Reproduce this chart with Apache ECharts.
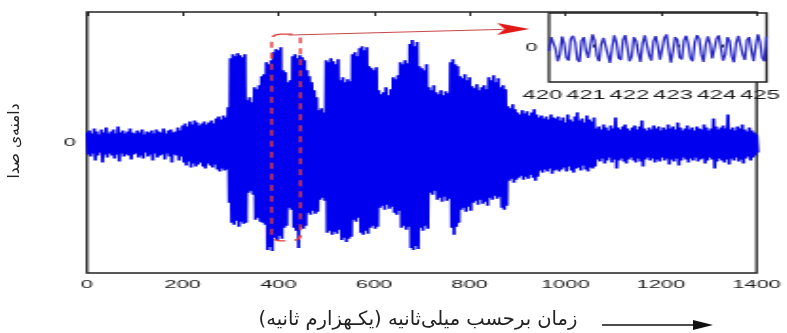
<!DOCTYPE html>
<html>
<head>
<meta charset="utf-8">
<script src="https://cdn.jsdelivr.net/npm/echarts@6/dist/echarts.min.js"></script>
<style>
  html, body { margin: 0; padding: 0; background: #fff; }
  #wrap { position: relative; width: 787px; height: 333px; overflow: hidden; background: #fff; }
  #plot { position: absolute; left: 0; top: 0; height: 333px; transform-origin: 0 0; }
  #over { position: absolute; left: 0; top: 0; width: 787px; height: 333px; pointer-events: none; direction: rtl; }
</style>
</head>
<body>
<div id="wrap">
  <div id="plot"></div>
  <div id="over"></div>
</div>
<script>
// ---------- data ----------
const timeStep = 5;              // ms between samples of the envelope
const mainXTicks = [0, 200, 400, 600, 800, 1000, 1200, 1400];
const mainYRange = [-130, 130];
// positive peaks (amplitude units) every 5 ms, t = 0 .. 1400
const waveUpper = [
  10,12,9,14,11,8,13,10,15,9, 11,13,9,16,10,12,9,11,14,10,
  9,12,10,13,8,11,10,12,9,13, 11,10,14,9,12,13,10,11,15,12,
  17,19,16,21,18,22,20,17,19,21,18,20,22,19,
  24,26,23,27,25,
  35,
  84,88,86,89,87,85,88,
  42,45,40,
  55,53,57,
  66,68,
  80,78,82,
  90,93,92,95,
  72,70,
  60,62,
  86,88,84,87,85,82,
  72,66,60,52,45,
  32,34,30,
  82,80,84,81,78,83,
  62,65,60,63,61,
  88,90,86,
  94,96,92,95,
  76,74,72,75,
  52,48,50,55,47,53,
  65,63,67,
  80,78,82,79,
  98,102,96,100,
  76,74,72,78,
  55,52,57,
  50,48,52,47,51,49,
  80,83,78,76,
  66,64,68,62,65,
  56,54,58,52,55,57,53,
  65,62,67,60,64,
  55,57,53,
  36,34,38,33,
  30,28,32,29,31,27,30,33,28,
  25,27,24,26,23,28,25,24,26,
  22,25,20,28,23,21,26,30,22,24,20,27,23,21,25,
  14,16,13,18,15,12,17,14,25,15, 13,16,18,14,12,15,17,13,16,22,
  14,12,15,13,17,14,16,12,15,13, 18,14,16,13,20,15,12,14,17,13,
  15,12,16,14,13,18,15,12,14,24, 16,13,15,17,14,28,13,15,12,16,
  14,18,13,11,15,12,10,
  8
];
// negative peaks (magnitude) half a step later
const waveLower = [
  12,14,11,18,13,10,20,12,15,11, 13,16,12,19,11,14,12,13,17,12,
  11,15,13,16,10,14,12,18,11,15, 13,12,17,11,14,20,12,13,18,14,
  20,23,19,25,21,24,22,20,24,26,21,23,25,22,
  27,29,26,28,27,
  60,
  80,82,78,84,79,81,80,
  50,48,52,
  77,75,79,
  80,82,
  107,104,108,
  95,97,93,96,
  85,83,
  65,67,
  85,88,105,84,86,83,
  70,72,68,71,69,
  57,55,58,
  90,88,92,89,91,87,
  97,95,99,96,94,
  77,79,75,
  90,92,88,91,
  85,83,86,84,
  65,63,67,62,66,64,
  70,72,68,
  85,83,87,84,
  105,107,103,106,
  85,88,83,86,
  50,52,48,
  57,55,59,54,58,56,
  85,92,84,80,
  67,65,69,64,68,
  60,58,62,57,61,59,63,
  55,57,53,56,54,
  65,67,63,
  38,36,40,37,
  35,33,37,34,36,32,35,38,34,
  28,30,27,29,26,31,28,27,29,
  27,25,29,24,28,30,26,25,28,23,27,29,25,26,24,
  17,19,16,21,18,15,20,17,26,18, 16,19,21,17,15,18,20,16,19,24,
  17,15,18,16,20,17,19,15,18,16, 22,17,19,16,23,18,15,17,20,16,
  18,15,19,17,16,21,18,15,17,26, 19,16,18,20,17,22,16,18,15,19,
  17,21,16,14,18,15,13,
  10
];
// zoomed window 420..425 ms
const insetStart = 420;
const insetStep = 0.05;
const insetXTicks = [420, 421, 422, 423, 424, 425];
const insetValues = [
  -0.1,0.3,0.35,-0.05,-0.4,-0.2,0.32,0.1,-0.3,-0.38,
  0.25,0.34,0.15,-0.35,-0.42,0.2,0.3,-0.1,-0.3,0.05,
  0.38,0.2,-0.25,-0.4,0.1,0.28,0.32,-0.2,-0.45,0.0,
  0.35,0.15,-0.3,-0.36,0.22,0.36,0.0,-0.4,-0.25,0.3,
  0.2,-0.15,-0.42,0.12,0.35,0.3,-0.22,-0.38,0.18,0.33,
  0.05,-0.35,-0.3,0.28,0.38,-0.05,-0.44,-0.1,0.3,0.22,
  -0.28,-0.35,0.2,0.34,0.1,-0.3,-0.4,0.15,0.36,0.25,
  -0.2,-0.42,0.08,0.32,0.12,-0.32,-0.3,0.26,0.35,-0.02,
  -0.38,-0.2,0.3,0.18,-0.25,-0.43,0.14,0.34,0.3,-0.2,
  -0.36,0.22,0.3,-0.08,-0.4,0.05,0.38,0.15,-0.3,-0.4,
  0.32
];
// annotation anchors (data coords of main plot)
const zoomBox = { t0: 386, t1: 446, top: 108, bottom: -98 };
const zoomArrow = { t0: 421, v0: 107, t1: 925, v1: 113 };
const xTitle = '\u200Fزمان برحسب میلی‌ثانیه (یکـهزارم ثانیه)\u200F';
const yTitle = '\u200Fدامنه‌ی صدا\u200F';

// ---------- build ----------
const STRETCH = 1.9;
const W = 787, H = 333;
const plotEl = document.getElementById('plot');
plotEl.style.width = (W / STRETCH) + 'px';
plotEl.style.transform = 'scaleX(' + STRETCH + ')';

const mainData = [];
for (let i = 0; i < waveUpper.length; i++) {
  mainData.push([i * timeStep, waveUpper[i]]);
  mainData.push([i * timeStep + timeStep / 2, -waveLower[i]]);
}
const insetData = insetValues.map((v, i) => [insetStart + i * insetStep, v]);

const sx = v => v / STRETCH;
const axisColor = '#222';
const labelFont = { fontSize: 11.5, color: '#1a1a1a', fontFamily: 'Liberation Sans, Arial, sans-serif',
  formatter: v => String(v) };

const chart = echarts.init(plotEl, null, { renderer: 'canvas' });
chart.setOption({
  animation: false,
  backgroundColor: '#fff',
  grid: [
    { left: sx(87), right: sx(787 - 762), top: 12, bottom: H - 273, show: true,
      borderColor: axisColor, borderWidth: 1.3, backgroundColor: 'rgba(0,0,0,0)' },
    { left: sx(549), right: sx(787 - 767), top: 13, bottom: H - 82, show: true,
      borderColor: axisColor, borderWidth: 1.3, backgroundColor: '#fff' }
  ],
  xAxis: [
    { gridIndex: 0, type: 'value', min: mainXTicks[0], max: mainXTicks[mainXTicks.length - 1],
      interval: mainXTicks[1] - mainXTicks[0],
      axisLine: { show: false }, splitLine: { show: false },
      axisTick: { inside: true, length: 4, lineStyle: { color: axisColor, width: 1 } },
      axisLabel: Object.assign({ margin: 6 }, labelFont) },
    { gridIndex: 0, type: 'value', position: 'top', min: mainXTicks[0], max: mainXTicks[mainXTicks.length - 1],
      interval: mainXTicks[1] - mainXTicks[0],
      axisLine: { show: false }, splitLine: { show: false },
      axisTick: { inside: true, length: 4, lineStyle: { color: axisColor, width: 1 } },
      axisLabel: { show: false } },
    { gridIndex: 1, type: 'value', min: insetXTicks[0], max: insetXTicks[insetXTicks.length - 1],
      interval: insetXTicks[1] - insetXTicks[0],
      axisLine: { show: false }, splitLine: { show: false },
      axisTick: { inside: true, length: 3, lineStyle: { color: axisColor, width: 1 } },
      axisLabel: Object.assign({}, labelFont, { fontSize: 12.5, margin: 7, padding: [0, 7, 0, 0] }) }
  ],
  yAxis: [
    { gridIndex: 0, type: 'value', min: mainYRange[0], max: mainYRange[1],
      axisLine: { show: false }, splitLine: { show: false }, axisTick: { show: false },
      axisLabel: Object.assign({ margin: 6, customValues: [0] }, labelFont) },
    { gridIndex: 1, type: 'value', min: -1, max: 1,
      axisLine: { show: false }, splitLine: { show: false }, axisTick: { show: false },
      axisLabel: Object.assign({ margin: 6, customValues: [0] }, labelFont) }
  ],
  series: [
    { type: 'line', xAxisIndex: 0, yAxisIndex: 0, data: mainData, showSymbol: false,
      silent: true, clip: true,
      lineStyle: { color: '#0000ee', width: 1.7, join: 'bevel' } },
    { type: 'line', xAxisIndex: 2, yAxisIndex: 1, data: insetData, showSymbol: false,
      silent: true, clip: true,
      lineStyle: { color: '#2a2ac6', width: 1.3 } }
  ]
});

// red annotation attached to main axes
const p = (t, v) => chart.convertToPixel({ xAxisIndex: 0, yAxisIndex: 0 }, [t, v]);
const b0 = p(zoomBox.t0, zoomBox.top), b1 = p(zoomBox.t1, zoomBox.bottom);
const a0 = p(zoomArrow.t0, zoomArrow.v0), a1 = p(zoomArrow.t1, zoomArrow.v1);
const headL = 17, headH = 6;
chart.setOption({
  graphic: [
    { type: 'rect', z: 50, silent: true,
      shape: { x: b0[0], y: b0[1], width: b1[0] - b0[0], height: b1[1] - b0[1], r: 5 },
      style: { fill: 'none', stroke: '#e23c3c', lineWidth: 1.4, lineDash: [6, 5] } },
    { type: 'line', z: 50, silent: true,
      shape: { x1: a0[0], y1: a0[1], x2: a1[0] - headL + 3, y2: a1[1] + 0.3 },
      style: { stroke: '#c94a4a', lineWidth: 1 } },
    { type: 'polygon', z: 50, silent: true,
      shape: { points: [[a1[0] - headL, a1[1] - headH], [a1[0], a1[1]], [a1[0] - headL, a1[1] + headH], [a1[0] - headL + 4, a1[1]]] },
      style: { fill: '#e01818' } }
  ]
});

// Persian titles (not stretched)
const over = echarts.init(document.getElementById('over'), null, { renderer: 'canvas' });
const persianFont = 'DejaVu Sans, Noto Sans, sans-serif';
over.setOption({
  animation: false,
  graphic: [
    { type: 'text', x: 418, y: 320, silent: true,
      style: { text: xTitle, fontSize: 19.5, fontFamily: persianFont, fill: '#222', align: 'center', verticalAlign: 'middle' } },
    { type: 'text', x: 15, y: 141, rotation: Math.PI / 2, silent: true,
      style: { text: yTitle, fontSize: 15.5, fontFamily: persianFont, fill: '#222', align: 'center', verticalAlign: 'middle' } },
    { type: 'line', silent: true, shape: { x1: 602, y1: 325, x2: 697, y2: 325 },
      style: { stroke: '#111', lineWidth: 1.5 } },
    { type: 'polygon', silent: true, shape: { points: [[693, 320], [713, 325], [693, 330]] },
      style: { fill: '#111' } }
  ]
});
</script>
</body>
</html>
